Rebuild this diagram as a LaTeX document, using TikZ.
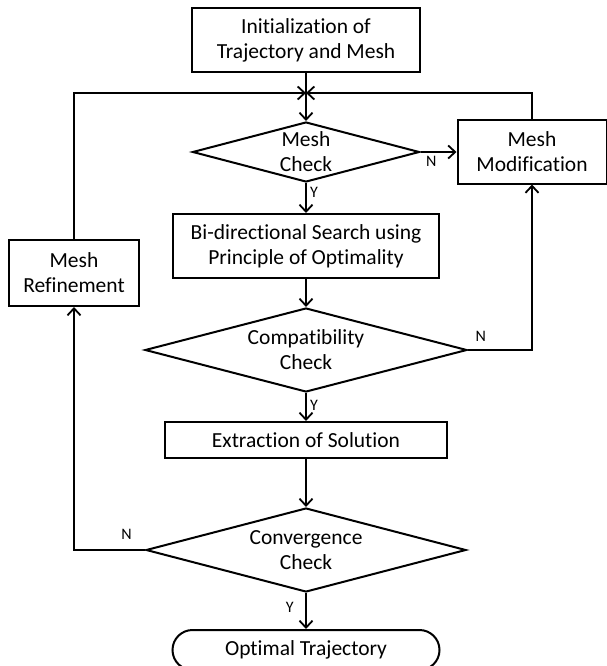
\documentclass[tikz,border=0pt]{standalone}
\usepackage{fontspec}
\setmainfont[Ligatures=NoCommon]{Carlito}
\usetikzlibrary{%
  arrows.meta,%
  shapes.geometric,%
  shapes.misc%
}
\tikzset{
  box/.style={draw,line width=2pt,align=center,inner sep=0pt},
  decision/.style={draw,diamond,line width=2pt,inner sep=0pt},
  term/.style={draw,rounded rectangle,line width=2pt,inner sep=0pt},
  flow/.style={line width=1.8pt,-{Straight Barb[length=7pt,width=13pt]}},
  yn/.style={font=\fontsize{16}{16}\selectfont}
}
\begin{document}
\begin{tikzpicture}[x=1pt,y=-1pt,font=\fontsize{21.5}{25}\selectfont]
    \useasboundingbox (0,0) rectangle (607,666);
    \node[box,minimum width=228pt,minimum height=64pt] (init) at (306,40)
    {Initialization of\\Trajectory and Mesh};
    \node[decision,minimum width=227pt,minimum height=60pt,
      label={[align=center]center:Mesh\\Check}] (mc) at (306,152) {};
    \node[box,minimum width=149pt,minimum height=63pt] (mm) at (532,152)
    {Mesh\\Modification};
    \node[box,minimum width=130pt,minimum height=66pt] (mr) at (74,273)
    {Mesh\\Refinement};
    \node[box,minimum width=266pt,minimum height=64pt] (bi) at (306,246)
    {Bi-directional Search using\\Principle of Optimality};
    \node[decision,minimum width=322pt,minimum height=84pt,
      label={[align=center]center:Compatibility\\Check}] (cc) at (306,350) {};
    \node[box,minimum width=282pt,minimum height=36pt] (ex) at (306,440)
    {Extraction of Solution};
    \node[decision,minimum width=320pt,minimum height=84pt,
      label={[align=center]center:Convergence\\Check}] (cv) at (306,550) {};
    \node[term,minimum width=267pt,minimum height=40pt] (ot) at (306,650)
    {Optimal Trajectory};
    \coordinate (j) at (306,93);
    \draw[flow] (init) -- (mc);
    \draw[flow] (mr.north) |- (j);
    \draw[flow] (mm.north) |- (j);
    \draw[flow] (mc) -- node[yn,pos=0.3,below] {N} (mm);
    \draw[flow] (mc) -- node[yn,pos=0.3,right] {Y} (bi);
    \draw[flow] (bi) -- (cc);
    \draw[flow] (cc.east) -| node[yn,pos=0.1,above=4pt] {N} (mm.south);
    \draw[flow] (cc) -- node[yn,pos=0.43,right] {Y} (ex);
    \draw[flow] (ex) -- (cv);
    \draw[flow] (cv.west) -| node[yn,pos=0.13,above=6pt] {N} (mr.south);
    \draw[flow] (cv) -- node[yn,pos=0.4,left=8pt] {Y} (ot);
  \end{tikzpicture}
\end{document}
